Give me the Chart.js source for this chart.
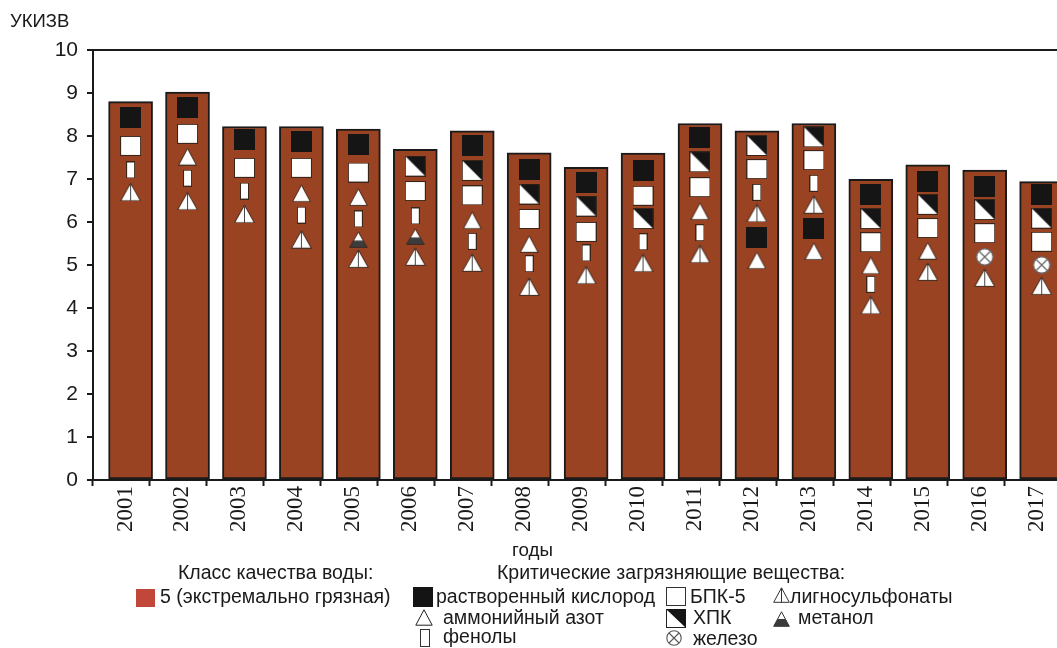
<!DOCTYPE html>
<html lang="ru">
<head>
<meta charset="utf-8">
<title>УКИЗВ по годам</title>
<script src="https://cdn.jsdelivr.net/npm/chart.js@4.4.1/dist/chart.umd.min.js"></script>
<style>
  html, body { margin: 0; padding: 0; background: #fff; overflow: hidden; }
  #wrap { position: relative; width: 1057px; height: 648px; overflow: hidden;
          font-family: "Liberation Sans", Arial, sans-serif; color: #1a1a1a; }
  #chart { position: absolute; left: 0; top: 0; }
  .t { position: absolute; font-size: 19.5px; line-height: 20px; white-space: nowrap; }
  .ic { position: absolute; display: block; }
</style>
</head>
<body>
<div id="wrap">
  <canvas id="chart" width="1072" height="648"></canvas>

  <div class="t" style="left:10px; top:11px; font-size:18.5px;">УКИЗВ</div>
  <div class="t" style="left:512px; top:540px; font-size:18.8px;">годы</div>

  <!-- легенда -->
  <div class="t" style="left:178px; top:562px;">Класс качества воды:</div>
  <div class="ic" style="left:136px; top:589px; width:19px; height:18px; background:#c2473b;"></div>
  <div class="t" style="left:160px; top:586px;">5 (экстремально грязная)</div>

  <div class="t" style="left:497px; top:562px;">Критические загрязняющие вещества:</div>

  <div class="ic" style="left:413px; top:587px; width:20px; height:20px; background:#141414;"></div>
  <div class="t" style="left:436px; top:586px;">растворенный кислород</div>

  <svg class="ic" style="left:415px; top:609px;" width="18" height="17">
    <polygon points="9,0.8 17.2,16.2 0.8,16.2" fill="#fff" stroke="#222" stroke-width="1"/>
  </svg>
  <div class="t" style="left:443px; top:607px;">аммонийный азот</div>

  <svg class="ic" style="left:420px; top:629px;" width="10" height="18">
    <rect x="0.5" y="0.5" width="9" height="17" fill="#fff" stroke="#333" stroke-width="1"/>
  </svg>
  <div class="t" style="left:443px; top:626px;">фенолы</div>

  <svg class="ic" style="left:666px; top:587px;" width="20" height="19">
    <rect x="0.5" y="0.5" width="19" height="18" fill="#fff" stroke="#333" stroke-width="1"/>
  </svg>
  <div class="t" style="left:690px; top:586px;">БПК-5</div>

  <svg class="ic" style="left:666px; top:609px;" width="20" height="19">
    <rect x="0.5" y="0.5" width="19" height="18" fill="#fff" stroke="#222" stroke-width="1"/>
    <polygon points="0,0 20,0 20,19" fill="#141414"/>
  </svg>
  <div class="t" style="left:693px; top:607px;">ХПК</div>

  <svg class="ic" style="left:666px; top:630px;" width="16" height="16">
    <circle cx="8" cy="8" r="7.2" fill="#fff" stroke="#555" stroke-width="1.1"/>
    <line x1="3" y1="3" x2="13" y2="13" stroke="#555" stroke-width="1.1"/>
    <line x1="13" y1="3" x2="3" y2="13" stroke="#555" stroke-width="1.1"/>
  </svg>
  <div class="t" style="left:693px; top:628px;">железо</div>

  <svg class="ic" style="left:773px; top:587px;" width="17" height="16">
    <polygon points="8.5,0.8 16.3,15.3 0.7,15.3" fill="#fff" stroke="#333" stroke-width="1"/>
    <line x1="8.5" y1="1" x2="8.5" y2="15.3" stroke="#333" stroke-width="1"/>
  </svg>
  <div class="t" style="left:790px; top:586px;">лигносульфонаты</div>

  <svg class="ic" style="left:773px; top:611px;" width="17" height="16">
    <polygon points="8.5,0.8 16.3,15.3 0.7,15.3" fill="#fff" stroke="#333" stroke-width="1"/>
    <polygon points="4.6,8 12.4,8 16.3,15.3 0.7,15.3" fill="#3a3a3a"/>
  </svg>
  <div class="t" style="left:798px; top:607px;">метанол</div>
</div>

<script>
// годы и значения УКИЗВ
const years = ['2001', '2002', '2003', '2004', '2005', '2006', '2007', '2008', '2009',
               '2010', '2011', '2012', '2013', '2014', '2015', '2016', '2017'];
const waterIndex = [8.80, 9.02, 8.22, 8.22, 8.16, 7.69, 8.12, 7.61, 7.27,
                    7.60, 8.29, 8.12, 8.29, 6.99, 7.33, 7.21, 6.94];

// где в столбике стоит значок каждого критического вещества (null - нет значка)
const oxygen   = [8.42, 8.67, 7.91, 7.88, 7.80, null, 7.77, 7.22, 6.93,
                  7.19, 7.97, 5.65, 5.86, 6.63, 6.95, 6.83, 6.65];
const bod5     = [7.77, 8.05, 7.26, 7.26, 7.15, 6.72, 6.62, 6.07, 5.77,
                  6.61, 6.81, 7.23, 7.44, 5.53, 5.86, 5.74, 5.54];
const cod      = [null, null, null, null, null, 7.30, 7.20, 6.65, 6.37,
                  6.08, 7.40, 7.78, 7.98, 6.08, 6.41, 6.29, 6.09];
const ammonium = [null, 7.52, null, 6.67, 6.58, null, 6.04, 5.49, null,
                  null, 6.25, 5.11, 5.32, 4.99, 5.33, null, null];
const phenols  = [7.21, 7.02, 6.72, 6.16, 6.07, 6.14, 5.55, 5.03, 5.28,
                  5.54, 5.75, 6.69, 6.90, 4.55, null, null, null];
const ligno    = [6.70, 6.49, 6.19, 5.60, 5.15, 5.20, 5.06, 4.50, 4.77,
                  5.05, 5.26, 6.21, 6.41, 4.07, 4.85, 4.71, 4.52];
const methanol = [null, null, null, null, 5.59, 5.66, null, null, null,
                  null, null, null, null, null, null, null, null];
const iron     = [null, null, null, null, null, null, null, null, null,
                  null, null, null, null, null, null, 5.19, 5.00];

// столбик стоит не по центру ячейки, а ближе к правому краю
const barPos = i => i + 0.66;
const toPoints = vals => vals
  .map((v, i) => (v == null ? null : { x: barPos(i), y: v }))
  .filter(p => p !== null);

// значки рисуем на маленьких канвасах и отдаём как pointStyle
function icon(w, h, paint) {
  const c = document.createElement('canvas');
  c.width = w;
  c.height = h;
  paint(c.getContext('2d'), w, h);
  return c;
}
function triangle(g, w, h) {
  g.beginPath();
  g.moveTo(w / 2, 0.8);
  g.lineTo(w - 0.6, h - 0.6);
  g.lineTo(0.6, h - 0.6);
  g.closePath();
}
const ink = '#151515';
const edge = '#3b2418';

const icons = {
  oxygen: icon(21, 21, (g, w, h) => {
    g.fillStyle = ink;
    g.fillRect(0, 0, w, h);
  }),
  bod5: icon(21, 20, (g, w, h) => {
    g.fillStyle = '#fff';
    g.fillRect(0, 0, w, h);
    g.strokeStyle = edge;
    g.strokeRect(0.5, 0.5, w - 1, h - 1);
  }),
  cod: icon(21, 21, (g, w, h) => {
    g.fillStyle = '#fff';
    g.fillRect(0, 0, w, h);
    g.fillStyle = ink;
    g.beginPath();
    g.moveTo(0, 0);
    g.lineTo(w, 0);
    g.lineTo(w, h);
    g.closePath();
    g.fill();
    g.strokeStyle = edge;
    g.strokeRect(0.5, 0.5, w - 1, h - 1);
  }),
  ammonium: icon(19, 18, (g, w, h) => {
    triangle(g, w, h);
    g.fillStyle = '#fff';
    g.fill();
    g.strokeStyle = edge;
    g.stroke();
  }),
  phenols: icon(9, 17, (g, w, h) => {
    g.fillStyle = '#fff';
    g.fillRect(0, 0, w, h);
    g.strokeStyle = edge;
    g.strokeRect(0.5, 0.5, w - 1, h - 1);
  }),
  ligno: icon(21, 19, (g, w, h) => {
    triangle(g, w, h);
    g.fillStyle = '#fff';
    g.fill();
    g.strokeStyle = edge;
    g.stroke();
    g.strokeStyle = '#444';
    g.beginPath();
    g.moveTo(w / 2, 1);
    g.lineTo(w / 2, h - 0.6);
    g.stroke();
  }),
  methanol: icon(19, 17, (g, w, h) => {
    triangle(g, w, h);
    g.fillStyle = '#fff';
    g.fill();
    g.save();
    g.clip();
    g.fillStyle = '#3c3c3c';
    g.fillRect(0, h * 0.55, w, h);
    g.restore();
    triangle(g, w, h);
    g.strokeStyle = edge;
    g.stroke();
  }),
  iron: icon(18, 18, (g, w, h) => {
    g.beginPath();
    g.arc(w / 2, h / 2, w / 2 - 0.8, 0, Math.PI * 2);
    g.fillStyle = '#fff';
    g.fill();
    g.strokeStyle = '#666';
    g.lineWidth = 1.2;
    g.stroke();
    const d = (w / 2 - 0.8) * 0.7;
    g.beginPath();
    g.moveTo(w / 2 - d, h / 2 - d);
    g.lineTo(w / 2 + d, h / 2 + d);
    g.moveTo(w / 2 + d, h / 2 - d);
    g.lineTo(w / 2 - d, h / 2 + d);
    g.stroke();
  }),
};

const markerSets = [
  ['растворенный кислород', oxygen, icons.oxygen],
  ['БПК-5', bod5, icons.bod5],
  ['ХПК', cod, icons.cod],
  ['аммонийный азот', ammonium, icons.ammonium],
  ['фенолы', phenols, icons.phenols],
  ['метанол', methanol, icons.methanol],
  ['лигносульфонаты', ligno, icons.ligno],
  ['железо', iron, icons.iron],
];

const axisColor = '#1a1a1a';

new Chart(document.getElementById('chart'), {
  type: 'bar',
  data: {
    datasets: [
      ...markerSets.map(([label, vals, img]) => ({
        type: 'scatter',
        label: label,
        data: toPoints(vals),
        pointStyle: img,
        pointRadius: 10,
        xAxisID: 'xBar',
        yAxisID: 'y',
        order: 0,
      })),
      {
        type: 'bar',
        label: '5 (экстремально грязная)',
        data: waterIndex.map((v, i) => ({ x: barPos(i), y: v })),
        backgroundColor: '#9a4323',
        borderColor: axisColor,
        borderWidth: 2,
        borderSkipped: false,
        barThickness: 44,
        xAxisID: 'xBar',
        yAxisID: 'y',
        order: 1,
      },
    ],
  },
  options: {
    responsive: false,
    animation: false,
    events: [],
    layout: { padding: { top: 50, right: 5, left: 0, bottom: 0 } },
    plugins: {
      legend: { display: false },
      tooltip: { enabled: false },
    },
    scales: {
      xBar: { type: 'linear', min: 0, max: 17, offset: false, display: false },
      x: {
        type: 'category',
        labels: years,
        position: 'bottom',
        offset: true,
        grid: {
          display: true,
          drawOnChartArea: false,
          offset: true,
          tickLength: 6,
          tickWidth: 2,
          tickColor: axisColor,
        },
        border: { display: true, color: axisColor, width: 2 },
        ticks: {
          autoSkip: false,
          minRotation: 90,
          maxRotation: 90,
          padding: 0,
          labelOffset: 4,
          color: axisColor,
          font: { family: '"Liberation Serif", "Times New Roman", serif', size: 23 },
        },
        afterFit: (scale) => { scale.height = 168; },
      },
      y: {
        min: 0,
        max: 10,
        ticks: {
          stepSize: 1,
          padding: 9,
          color: axisColor,
          font: { family: '"Liberation Sans", Arial, sans-serif', size: 21 },
        },
        grid: {
          // линия только сверху, на 10
          color: (ctx) => (ctx.tick && ctx.tick.value === 10 ? axisColor : 'transparent'),
          lineWidth: 2,
          tickColor: axisColor,
          tickLength: 6,
          tickWidth: 2,
        },
        border: { color: axisColor, width: 2 },
        afterFit: (scale) => { scale.width = 93; },
      },
    },
  },
});
</script>
</body>
</html>
